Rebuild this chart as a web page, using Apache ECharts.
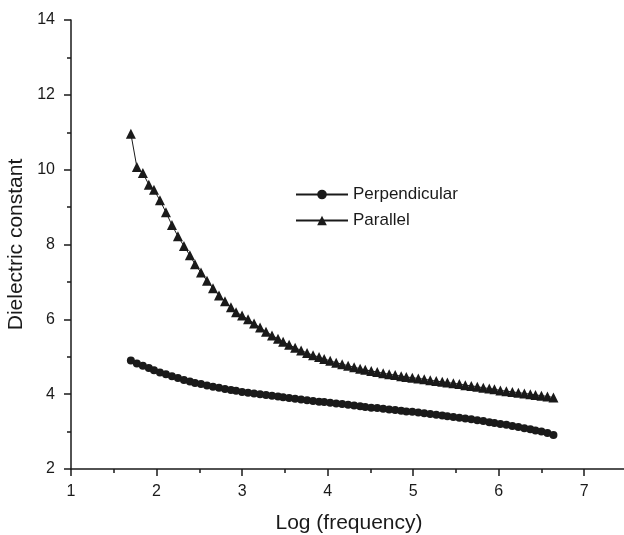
<!DOCTYPE html>
<html>
<head>
<meta charset="utf-8">
<script src="https://cdn.jsdelivr.net/npm/echarts@6/dist/echarts.min.js"></script>
<style>html,body{margin:0;padding:0;background:#fff}#c{width:624px;height:535px}</style>
</head>
<body>
<div id="c"></div>
<script>
const logFreq = [1.70,1.77,1.84,1.91,1.97,2.04,2.11,2.18,2.25,2.32,2.39,2.45,2.52,2.59,2.66,2.73,2.80,2.87,2.93,3.00,
3.07,3.14,3.21,3.28,3.35,3.42,3.48,3.55,3.62,3.69,3.76,3.83,3.90,3.96,4.03,4.10,4.17,4.24,4.31,4.38,
4.44,4.51,4.58,4.65,4.72,4.79,4.86,4.92,4.99,5.06,5.13,5.20,5.27,5.34,5.40,5.47,5.54,5.61,5.68,5.75,
5.82,5.89,5.95,6.02,6.09,6.16,6.23,6.30,6.37,6.43,6.50,6.57,6.64];
const perpendicular = [4.90,4.82,4.76,4.70,4.64,4.58,4.53,4.48,4.43,4.38,4.34,4.30,4.27,4.23,4.20,4.17,4.14,4.11,4.09,4.06,
4.04,4.02,4.00,3.98,3.96,3.94,3.92,3.90,3.88,3.86,3.84,3.82,3.80,3.79,3.77,3.75,3.74,3.72,3.70,3.68,
3.66,3.64,3.63,3.61,3.59,3.58,3.56,3.54,3.53,3.51,3.49,3.47,3.45,3.43,3.41,3.39,3.37,3.35,3.33,3.30,
3.28,3.25,3.23,3.20,3.18,3.15,3.12,3.09,3.06,3.03,3.00,2.96,2.91];
const parallel = [10.96,10.07,9.91,9.60,9.46,9.18,8.86,8.52,8.22,7.96,7.71,7.47,7.25,7.03,6.83,6.64,6.48,6.32,6.19,6.10,
6.00,5.89,5.78,5.67,5.57,5.48,5.40,5.32,5.24,5.17,5.10,5.04,4.99,4.94,4.89,4.84,4.80,4.76,4.72,4.68,
4.65,4.62,4.59,4.56,4.53,4.51,4.48,4.46,4.44,4.42,4.40,4.37,4.35,4.33,4.31,4.29,4.27,4.24,4.22,4.20,
4.17,4.15,4.13,4.10,4.08,4.06,4.04,4.02,4.00,3.98,3.96,3.94,3.91];
const seriesNames = ['Perpendicular','Parallel'];
const xTitle = 'Log (frequency)';
const yTitle = 'Dielectric constant';

const FONT = '"Liberation Sans", Arial, Helvetica, sans-serif';
const INK = '#1a1a1a';
const pairs = (xs, ys) => xs.map((x, i) => [x, ys[i]]);

const chart = echarts.init(document.getElementById('c'), null, {renderer: 'canvas'});
chart.setOption({
  animation: false,
  backgroundColor: '#fff',
  textStyle: {fontFamily: FONT, color: INK},
  grid: {left: 71, right: -3, top: 20, bottom: 66, containLabel: false, outerBoundsMode: 'none'},
  legend: {
    orient: 'vertical', left: 290, top: 181, itemGap: 9,
    itemWidth: 52, itemHeight: 12,
    textStyle: {fontFamily: FONT, fontSize: 17, color: INK},
    data: seriesNames
  },
  xAxis: {
    type: 'value', min: 1, max: 7.5, interval: 1,
    name: xTitle, nameLocation: 'middle', nameGap: 44,
    nameTextStyle: {fontFamily: FONT, fontSize: 21, color: INK},
    axisLine: {show: true, onZero: false, lineStyle: {color: INK, width: 1.5}},
    axisTick: {show: true, inside: false, length: 7, lineStyle: {color: INK, width: 1.5}},
    minorTick: {show: true, splitNumber: 2, length: 4, lineStyle: {color: INK, width: 1.5}},
    axisLabel: {fontFamily: FONT, fontSize: 16, color: INK, margin: 15, showMaxLabel: false},
    splitLine: {show: false}
  },
  yAxis: {
    type: 'value', min: 2, max: 14, interval: 2,
    name: yTitle, nameLocation: 'middle', nameGap: 39, nameRotate: 90,
    nameTextStyle: {fontFamily: FONT, fontSize: 21, color: INK},
    axisLine: {show: true, onZero: false, lineStyle: {color: INK, width: 1.5}},
    axisTick: {show: true, inside: false, length: 7, lineStyle: {color: INK, width: 1.5}},
    minorTick: {show: true, splitNumber: 2, length: 4, lineStyle: {color: INK, width: 1.5}},
    axisLabel: {fontFamily: FONT, fontSize: 16, color: INK, margin: 16},
    splitLine: {show: false}
  },
  series: [
    {
      name: seriesNames[0], type: 'line', data: pairs(logFreq, perpendicular),
      symbol: 'circle', symbolSize: 8, showAllSymbol: true,
      lineStyle: {color: INK, width: 1}, itemStyle: {color: INK, borderWidth: 0}
    },
    {
      name: seriesNames[1], type: 'line', data: pairs(logFreq, parallel),
      symbol: 'triangle', symbolSize: 10, showAllSymbol: true,
      lineStyle: {color: INK, width: 1}, itemStyle: {color: INK, borderWidth: 0}
    }
  ]
});
</script>
</body>
</html>
